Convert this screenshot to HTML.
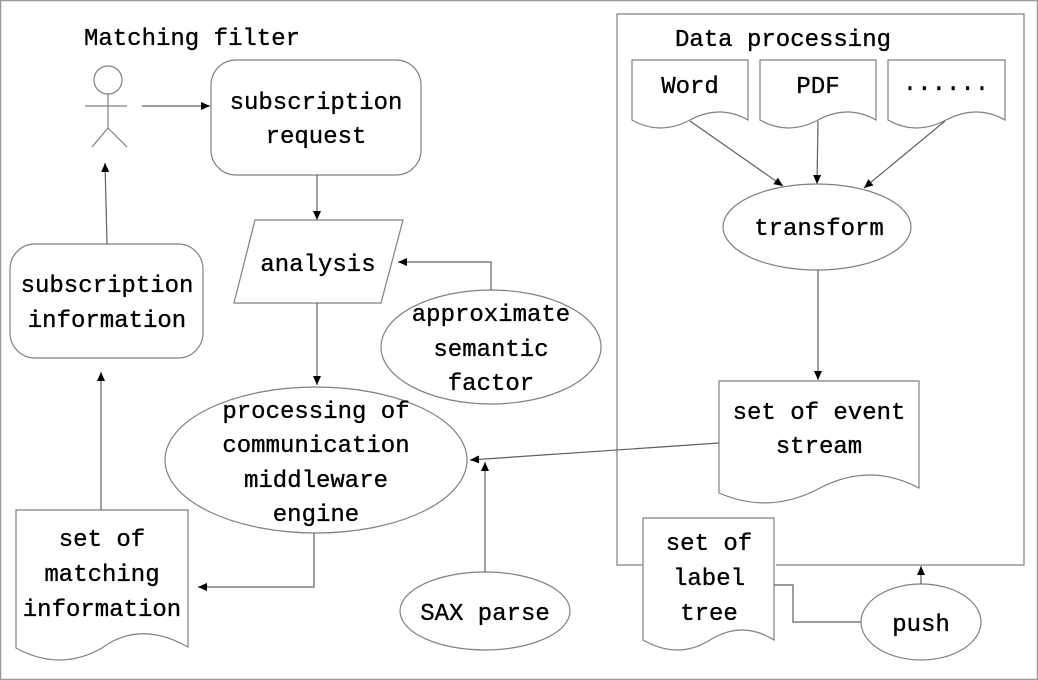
<!DOCTYPE html>
<html><head><meta charset="utf-8"><style>
html,body{margin:0;padding:0;background:#fff}
svg{display:block}
text{font-family:"Liberation Mono","Noto Serif CJK SC",monospace;font-size:24px;fill:#000;text-anchor:middle;stroke:#000;stroke-width:0.35}
.s{fill:none;stroke:#808080;stroke-width:1.2}
.w{fill:#fff;stroke:#808080;stroke-width:1.2}
.l{fill:none;stroke:#606060;stroke-width:1.2}
</style></head><body>
<svg width="1038" height="680" viewBox="0 0 1038 680" xmlns="http://www.w3.org/2000/svg">
<defs><marker id="a" markerWidth="10" markerHeight="10" refX="9" refY="5" orient="auto" markerUnits="userSpaceOnUse"><path d="M0,1 L9,5 L0,9 Z" fill="#000"/></marker></defs>
<rect x="0.5" y="0.5" width="1037" height="679" fill="#fff" stroke="#999" stroke-width="1.5"/>

<text x="192" y="45">Matching filter</text>
<!-- actor -->
<circle cx="108" cy="80" r="14" class="s"/>
<line x1="108" y1="94" x2="108" y2="128" class="s"/>
<line x1="85" y1="106" x2="127" y2="106" class="s"/>
<line x1="108" y1="128" x2="92" y2="147" class="s"/>
<line x1="108" y1="128" x2="127" y2="147" class="s"/>
<line x1="142" y1="106" x2="210" y2="106" class="l" marker-end="url(#a)"/>

<rect x="211" y="60" width="210" height="115" rx="25" class="w"/>
<text x="316" y="109">subscription</text>
<text x="316" y="143">request</text>
<line x1="317" y1="175" x2="317" y2="220" class="l" marker-end="url(#a)"/>

<path d="M255,220 L403,220 L381,303 L234,303 Z" class="w"/>
<text x="318" y="271">analysis</text>

<ellipse cx="491" cy="347" rx="110" ry="57" class="w"/>
<text x="491" y="321">approximate</text>
<text x="491" y="356">semantic</text>
<text x="491" y="390">factor</text>
<path d="M491,290 L491,262 L398,262" class="l" marker-end="url(#a)"/>

<line x1="317" y1="303" x2="317" y2="385" class="l" marker-end="url(#a)"/>
<ellipse cx="316" cy="460" rx="151" ry="73" class="w"/>
<text x="316" y="418">processing of</text>
<text x="316" y="452">communication</text>
<text x="316" y="487">middleware</text>
<text x="316" y="521">engine</text>

<rect x="10" y="244" width="193" height="114" rx="25" class="w"/>
<text x="107" y="292">subscription</text>
<text x="107" y="327">information</text>
<line x1="107" y1="244" x2="105" y2="163" class="l" marker-end="url(#a)"/>

<path d="M16,510 H188 V647 Q140,620 102,648 Q60,672 16,648 Z" class="w"/>
<text x="102" y="546">set of</text>
<text x="102" y="581">matching</text>
<text x="102" y="616">information</text>
<line x1="101" y1="510" x2="101" y2="372" class="l" marker-end="url(#a)"/>
<path d="M314,533 L314,587 L198,587" class="l" marker-end="url(#a)"/>

<ellipse cx="485" cy="611" rx="85" ry="39" class="w"/>
<text x="485" y="620">SAX parse</text>
<line x1="485" y1="572" x2="485" y2="462" class="l" marker-end="url(#a)"/>

<path d="M643,565 H617 V14 H1024 V565 H776" class="s"/>
<text x="783" y="46">Data processing</text>
<path d="M632,60 H748 V120 Q720,104 690,120 Q660,136 632,120 Z" class="w"/>
<text x="690" y="93">Word</text>
<path d="M760,60 H876 V120 Q848,104 818,120 Q788,136 760,120 Z" class="w"/>
<text x="818" y="93">PDF</text>
<path d="M888,60 H1005 V120 Q977,104 946,120 Q916,136 888,120 Z" class="w"/>
<text x="946" y="90">......</text>

<line x1="690" y1="121" x2="783" y2="186" class="l" marker-end="url(#a)"/>
<line x1="818" y1="121" x2="817" y2="184" class="l" marker-end="url(#a)"/>
<line x1="945" y1="121" x2="864" y2="188" class="l" marker-end="url(#a)"/>

<ellipse cx="817" cy="227" rx="94" ry="43" class="w"/>
<text x="819" y="235">transform</text>
<line x1="818" y1="270" x2="818" y2="380" class="l" marker-end="url(#a)"/>

<path d="M719,381 H919 V488 Q870,462 820,488 Q770,515 719,493 Z" class="w"/>
<text x="819" y="419">set of event</text>
<text x="819" y="453">stream</text>
<line x1="719" y1="443" x2="470" y2="460" class="l" marker-end="url(#a)"/>

<path d="M643,518 H774 V640 Q742,620 710,640 Q678,660 643,640 Z" class="w"/>
<text x="709" y="550">set of</text>
<text x="709" y="585">label</text>
<text x="709" y="620">tree</text>

<ellipse cx="921" cy="622" rx="60" ry="38" class="w"/>
<text x="921" y="631">push</text>
<line x1="921" y1="584" x2="921" y2="566" class="l" marker-end="url(#a)"/>
<path d="M774,585 H793 V622 H861" class="l"/>
</svg>
</body></html>
